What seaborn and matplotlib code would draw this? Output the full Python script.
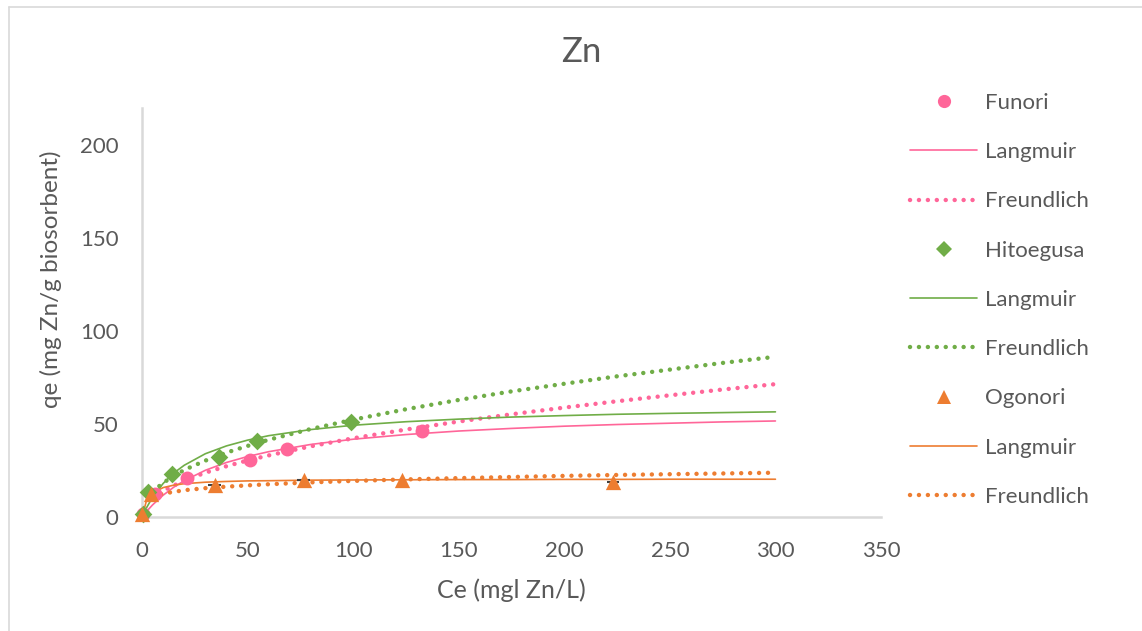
import matplotlib
matplotlib.use("Agg")
import matplotlib.pyplot as plt
from matplotlib.lines import Line2D
import seaborn as sns

# ---- measured isotherm data (Ce in mg/L, qe in mg Zn / g biosorbent) ----
funori_ce = [0.5, 6.0, 21.5, 51.3, 68.7, 132.5]
funori_qe = [1.5, 12.2, 20.8, 30.6, 36.4, 46.4]

hitoegusa_ce = [0.3, 2.8, 14.4, 36.5, 54.5, 99.2]
hitoegusa_qe = [1.5, 13.3, 23.0, 32.4, 40.9, 51.2]

ogonori_ce = [0.0, 4.1, 34.4, 76.6, 123.0, 223.0]
ogonori_qe = [1.5, 12.2, 17.2, 19.9, 19.9, 19.0]

# ---- model curves (Langmuir / Freundlich) ----
lang_ce = [0, 2, 5, 10, 15, 20, 30, 40, 50, 60, 80, 100, 125, 150, 175,
           200, 225, 250, 275, 300]
funori_lang = [0, 2.8, 6.5, 11.7, 16.0, 19.5, 25.1, 29.3, 32.5, 35.1, 39.0,
               41.8, 44.3, 46.2, 47.6, 48.8, 49.7, 50.4, 51.1, 51.6]
hitoegusa_lang = [0, 4.7, 10.6, 18.0, 23.6, 27.8, 34.0, 38.2, 41.3, 43.7,
                  47.0, 49.3, 51.2, 52.6, 53.7, 54.5, 55.2, 55.7, 56.1, 56.5]
ogonori_lang = [0, 8.3, 12.9, 15.8, 17.1, 17.9, 18.7, 19.1, 19.4, 19.5, 19.8,
                19.9, 20.0, 20.1, 20.1, 20.2, 20.2, 20.3, 20.3, 20.3]

freu_ce = [5, 10, 20, 30, 40, 50, 60, 80, 100, 125, 150, 175, 200, 225,
           250, 275, 300]
funori_freu = [10.1, 14.1, 19.6, 23.8, 27.3, 30.4, 33.1, 38.0, 42.3, 47.0,
               51.3, 55.2, 58.8, 62.2, 65.4, 68.5, 71.4]
hitoegusa_freu = [13.5, 18.4, 25.3, 30.3, 34.6, 38.2, 41.5, 47.3, 52.3, 57.9,
                  62.9, 67.5, 71.6, 75.6, 79.2, 82.8, 86.1]
ogonori_freu = [11.1, 12.6, 14.4, 15.5, 16.3, 17.0, 17.6, 18.6, 19.4, 20.2,
                20.9, 21.5, 22.1, 22.6, 23.0, 23.4, 23.8]

x_ticks = [0, 50, 100, 150, 200, 250, 300, 350]
y_ticks = [0, 50, 100, 150, 200]

PINK = "#FF6699"
GREEN = "#70AD47"
ORANGE = "#ED7D31"
TEXT = "#595959"
AXIS = "#D9D9D9"

sns.set_theme(style="white")
plt.rcParams["font.family"] = ["Lato", "DejaVu Sans"]

fig = plt.figure(figsize=(11.42, 6.31), dpi=100)
ax = fig.add_axes([142 / 1142, 1 - 517 / 631, (881 - 142) / 1142, (517 - 107.6) / 631])

DOT = dict(linestyle=(0, (0.01, 2.0)), dash_capstyle="round", linewidth=3.2)

series = [
    ("Funori", funori_ce, funori_qe, funori_lang, funori_freu, PINK, "o", 10),
    ("Hitoegusa", hitoegusa_ce, hitoegusa_qe, hitoegusa_lang, hitoegusa_freu, GREEN, "D", 9),
    ("Ogonori", ogonori_ce, ogonori_qe, ogonori_lang, ogonori_freu, ORANGE, "^", 11),
]

for name, ce, qe, lang, freu, col, mk, ms in series:
    sns.lineplot(x=lang_ce, y=lang, ax=ax, color=col, linewidth=1.2,
                 estimator=None, sort=False, zorder=2)
    sns.lineplot(x=freu_ce, y=freu, ax=ax, color=col, estimator=None,
                 sort=False, zorder=2, **DOT)

# small horizontal error bars on the Ogonori points
ax.errorbar(ogonori_ce[2:4] + ogonori_ce[5:], ogonori_qe[2:4] + ogonori_qe[5:],
            xerr=3.0, fmt="none", ecolor="#404040", elinewidth=1.5, capsize=0,
            zorder=3)

for name, ce, qe, lang, freu, col, mk, ms in series:
    sns.scatterplot(x=ce, y=qe, ax=ax, color=col, marker=mk, s=ms ** 2,
                    linewidth=0, zorder=4, clip_on=False)

ax.set_xlim(0, 350)
ax.set_ylim(0, 220)
ax.set_xticks(x_ticks)
ax.set_yticks(y_ticks)
ax.tick_params(axis="both", length=0, labelsize=16, labelcolor=TEXT)
ax.tick_params(axis="x", pad=17)
ax.tick_params(axis="y", pad=17)
for side in ("top", "right"):
    ax.spines[side].set_visible(False)
for side in ("left", "bottom"):
    ax.spines[side].set_color(AXIS)
    ax.spines[side].set_linewidth(1.8)
ax.grid(False)
ax.set_xlabel("")
ax.set_ylabel("")

fig.text(581 / 1142, 1 - 52 / 631, "Zn", ha="center", va="center",
         fontsize=25, color=TEXT)
fig.text(511 / 1142, 1 - 590 / 631, "Ce (mgl Zn/L)", ha="center", va="center",
         fontsize=18, color=TEXT)
fig.text(51 / 1142, 1 - 279 / 631, "qe (mg Zn/g biosorbent)", ha="center",
         va="center", rotation=90, fontsize=17.5, color=TEXT)

# chart frame
fig.add_artist(Line2D([9 / 1142, 9 / 1142], [0, 1 - 7 / 631], color=AXIS, lw=1.2))
fig.add_artist(Line2D([9 / 1142, 1], [1 - 7 / 631, 1 - 7 / 631], color=AXIS, lw=1.2))

handles = []
labels = []
for name, ce, qe, lang, freu, col, mk, ms in series:
    handles.append(Line2D([], [], linestyle="none", marker=mk, color=col,
                          markersize=ms * 0.95, markeredgewidth=0))
    labels.append(name)
    handles.append(Line2D([], [], color=col, linewidth=1.2))
    labels.append("Langmuir")
    handles.append(Line2D([], [], color=col, **DOT))
    labels.append("Freundlich")

fs = 16
fpx = fs * 100 / 72
fig.legend(handles, labels, loc="upper left",
           bbox_to_anchor=(910 / 1142, 1 - 93 / 631), frameon=False,
           fontsize=fs, labelcolor=TEXT, handlelength=67 / fpx,
           handletextpad=8 / fpx, labelspacing=1.315, borderpad=0,
           borderaxespad=0)

fig.savefig("out.png", dpi=100, facecolor="white")
